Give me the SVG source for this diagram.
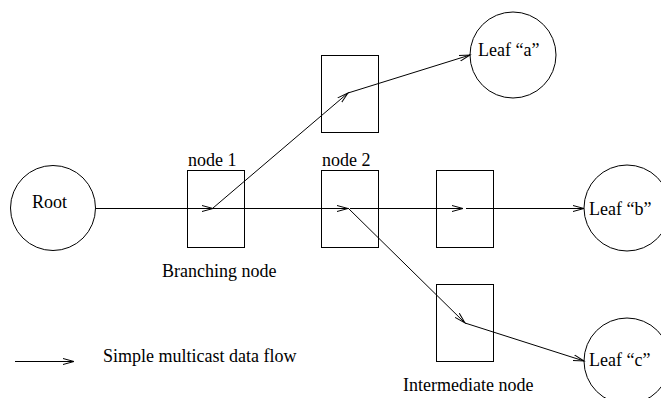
<svg xmlns="http://www.w3.org/2000/svg" width="661" height="398" viewBox="0 0 661 398">
<style>
.shape{fill:none;stroke:#000;stroke-width:1}
.lbl{font-family:"Liberation Serif","Times New Roman",serif;font-size:18px;fill:#000}
.flow{fill:none;stroke:#000;stroke-width:1;marker-end:url(#arr)}
</style>
<defs>
<marker id="arr" markerUnits="userSpaceOnUse" markerWidth="14" markerHeight="10" refX="11" refY="4" orient="auto">
<path d="M0,1 L11,4 L0,7" fill="none" stroke="#000" stroke-width="1"/>
</marker>
</defs>
<rect width="661" height="398" fill="#fff"/>
<g id="root"><circle class="shape" cx="53" cy="208" r="42.5"/><text class="lbl" x="32" y="208">Root</text></g>
<g id="node1"><rect class="shape" x="187.5" y="170.5" width="57" height="77"/><text class="lbl" x="188" y="166">node 1</text></g>
<g id="node2"><rect class="shape" x="321.5" y="170.5" width="57" height="77"/><text class="lbl" x="322" y="166">node 2</text></g>
<g id="topbox"><rect class="shape" x="321.5" y="55.5" width="57" height="77"/></g>
<g id="midbox"><rect class="shape" x="436.5" y="170.5" width="57" height="77"/></g>
<g id="lowbox"><rect class="shape" x="436.5" y="284.5" width="57" height="77"/></g>
<g id="leafa"><circle class="shape" cx="513" cy="55" r="43"/><text class="lbl" x="478" y="56">Leaf “a”</text></g>
<g id="leafb"><circle class="shape" cx="627" cy="208" r="43"/><text class="lbl" x="589" y="215">Leaf “b”</text></g>
<g id="leafc"><circle class="shape" cx="627" cy="361" r="43"/><text class="lbl" x="589" y="366">Leaf “c”</text></g>
<g id="labels">
<text class="lbl" x="162" y="277">Branching node</text>
<text class="lbl" x="403" y="391">Intermediate node</text>
<text class="lbl" x="103" y="362">Simple multicast data flow</text>
</g>
<g id="connectors">
<line class="flow" x1="96" y1="208.5" x2="213" y2="208.5"/>
<line class="flow" x1="213" y1="208.5" x2="348" y2="208.5"/>
<line class="flow" x1="350" y1="208.5" x2="463" y2="208.5"/>
<line class="flow" x1="466" y1="208.5" x2="584" y2="208.5"/>
<line class="flow" x1="213" y1="208" x2="348" y2="93"/>
<line class="flow" x1="348" y1="93" x2="470" y2="55"/>
<line class="flow" x1="348" y1="208" x2="465" y2="323"/>
<line class="flow" x1="465" y1="323" x2="584" y2="361"/>
<line class="flow" x1="15" y1="361.5" x2="74" y2="361.5"/>
</g>
</svg>
